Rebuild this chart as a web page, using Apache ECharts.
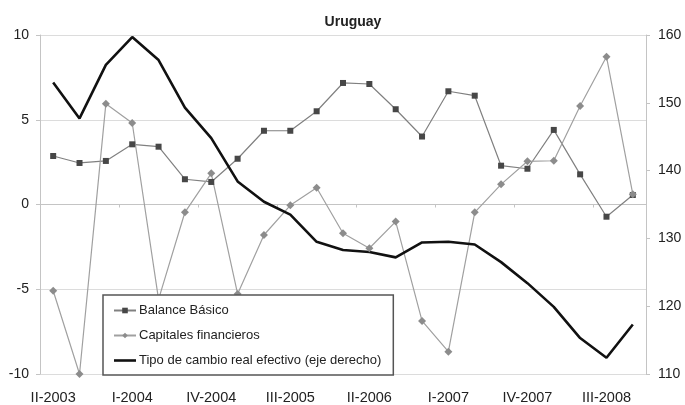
<!DOCTYPE html>
<html>
<head>
<meta charset="utf-8">
<script src="https://cdn.jsdelivr.net/npm/echarts@6/dist/echarts.min.js"></script>
<style>
  html, body { margin: 0; padding: 0; background: #fff; }
  #chart { width: 685px; height: 405px; }
</style>
</head>
<body>
<div id="chart"></div>
<script>
var quarters = ['II-2003', 'III-2003', 'IV-2003',
    'I-2004', 'II-2004', 'III-2004', 'IV-2004',
    'I-2005', 'II-2005', 'III-2005', 'IV-2005',
    'I-2006', 'II-2006', 'III-2006', 'IV-2006',
    'I-2007', 'II-2007', 'III-2007', 'IV-2007',
    'I-2008', 'II-2008', 'III-2008', 'IV-2008'];

// eje izquierdo
var balance_basico = [2.86, 2.45, 2.57, 3.55, 3.41, 1.49, 1.33, 2.70, 4.35, 4.35, 5.50, 7.17,
    7.11, 5.62, 4.01, 6.68, 6.42, 2.29, 2.11, 4.40, 1.78, -0.72, 0.56];
var capitales_fin = [-5.09, -10.0, 5.95, 4.81, -5.6, -0.46, 1.84, -5.28, -1.80, -0.05, 0.99, -1.70,
    -2.58, -1.01, -6.87, -8.68, -0.46, 1.19, 2.55, 2.58, 5.81, 8.72, 0.6];
// eje derecho
var tipo_cambio = [153.0, 147.7, 155.6, 159.7, 156.3, 149.3, 144.8, 138.4, 135.4, 133.5, 129.5, 128.3,
    128.0, 127.2, 129.4, 129.5, 129.1, 126.5, 123.4, 119.9, 115.3, 112.4, 117.3];

var left_ticks = [-10, 10, 5];   // min, max, interval
var right_ticks = [110, 160, 10];

var font = 'Liberation Sans, Arial, sans-serif';
var chart = echarts.init(document.getElementById('chart'));

var option = {
    animation: false,
    textStyle: { fontFamily: font },
    title: {
        text: 'Uruguay',
        left: 348,
        textAlign: 'center',
        top: 10,
        textStyle: { fontSize: 14, fontWeight: 'bold', color: '#222', fontFamily: font }
    },
    grid: { left: 40, right: 39, top: 35, bottom: 31 },
    legend: {
        orient: 'vertical',
        left: 103,
        top: 295,
        padding: [9, 12, 8, 10],
        itemGap: 12,
        itemWidth: 22,
        itemHeight: 7,
        backgroundColor: '#fff',
        borderColor: '#555',
        borderWidth: 1.5,
        textStyle: { fontSize: 13, color: '#222', fontFamily: font, padding: [0, 0, 0, -2] },
        data: ['Balance Básico', 'Capitales financieros', {
            name: 'Tipo de cambio real efectivo (eje derecho)',
            icon: 'path://M0,0h22v2.6h-22z'
        }]
    },
    xAxis: [{
        type: 'category',
        data: quarters,
        position: 'bottom',
        axisLine: { show: false },
        axisTick: { show: false },
        axisLabel: { interval: 2, fontSize: 14.5, color: '#222', margin: 16 }
    }, {
        type: 'category',
        data: quarters,
        position: 'bottom',
        axisLine: { onZero: true, onZeroAxisIndex: 0, lineStyle: { color: '#c4c4c4', width: 1 } },
        axisTick: { show: true, length: 3, lineStyle: { color: '#c4c4c4' } },
        axisLabel: { show: false }
    }],
    yAxis: [{
        type: 'value',
        min: left_ticks[0],
        max: left_ticks[1],
        interval: left_ticks[2],
        axisLine: { show: true, lineStyle: { color: '#c4c4c4' } },
        axisTick: { show: true, length: 4, lineStyle: { color: '#c4c4c4' } },
        axisLabel: { fontSize: 14, color: '#222', margin: 11 },
        splitLine: { lineStyle: { color: '#dcdcdc' } }
    }, {
        type: 'value',
        position: 'right',
        min: right_ticks[0],
        max: right_ticks[1],
        interval: right_ticks[2],
        axisLine: { show: true, lineStyle: { color: '#c4c4c4' } },
        axisTick: { show: true, length: 4, lineStyle: { color: '#c4c4c4' } },
        axisLabel: { fontSize: 14, color: '#222', margin: 12 },
        splitLine: { show: false }
    }],
    series: [{
        name: 'Balance Básico',
        type: 'line',
        data: balance_basico,
        symbol: 'rect',
        symbolSize: 6,
        lineStyle: { color: '#808080', width: 1.2 },
        itemStyle: { color: '#474747' },
        color: '#474747'
    }, {
        name: 'Capitales financieros',
        type: 'line',
        data: capitales_fin,
        symbol: 'diamond',
        symbolSize: 8,
        lineStyle: { color: '#a0a0a0', width: 1.2 },
        itemStyle: { color: '#8c8c8c' },
        color: '#8c8c8c'
    }, {
        name: 'Tipo de cambio real efectivo (eje derecho)',
        type: 'line',
        yAxisIndex: 1,
        data: tipo_cambio,
        symbol: 'none',
        lineStyle: { color: '#111', width: 2.6 },
        itemStyle: { color: '#111' },
        color: '#111',
        z: 3
    }]
};

chart.setOption(option);
</script>
</body>
</html>
